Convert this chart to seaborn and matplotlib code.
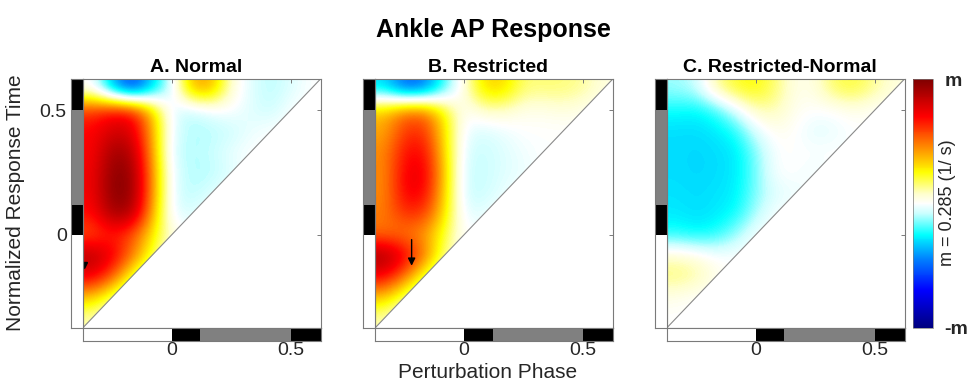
import numpy as np
import matplotlib
matplotlib.use("Agg")
import matplotlib.pyplot as plt
from matplotlib.colors import LinearSegmentedColormap
from matplotlib.patches import Polygon
import seaborn as sns

sns.set_theme(style="white")
plt.rcParams["font.family"] = ["Liberation Sans", "DejaVu Sans"]

# ---------------- data ----------------
phase_lo, phase_hi = -0.375, 0.625
tick_values = [0, 0.5]
tick_labels = ["0", "0.5"]

# gait phase bar (start, end, colour)
phase_starts = [-0.375, 0.0, 0.12, 0.5]
phase_ends = [0.0, 0.12, 0.5, 0.625]
phase_colors = ["white", "black", "#808080", "black"]

# response fields (normalised by m), 12x12 grid, rows top (0.583) -> bottom (-0.333),
# cols left (-0.333) -> right (0.583)
normal = np.array([
    [0.00, -0.38, -0.60, -0.32, -0.05, 0.40, 0.40, 0.05, -0.05, -0.10, -0.05, 0.00],
    [0.60, 0.70, 0.68, 0.35, -0.05, -0.10, -0.03, 0.00, -0.05, -0.08, 0.00, 0.00],
    [0.70, 0.80, 0.78, 0.40, -0.05, -0.10, -0.10, -0.08, -0.03, 0.00, 0.00, 0.00],
    [0.70, 0.92, 0.88, 0.42, -0.08, -0.10, -0.08, -0.03, 0.00, 0.00, 0.00, 0.00],
    [0.72, 0.97, 0.94, 0.45, -0.05, -0.10, -0.10, -0.05, 0.00, 0.00, 0.00, 0.00],
    [0.72, 0.98, 0.95, 0.45, -0.05, -0.10, -0.05, 0.00, 0.00, 0.00, 0.00, 0.00],
    [0.68, 0.92, 0.88, 0.40, -0.05, -0.05, 0.00, 0.00, 0.00, 0.00, 0.00, 0.00],
    [0.55, 0.65, 0.55, 0.28, 0.05, 0.00, 0.00, 0.00, 0.00, 0.00, 0.00, 0.00],
    [0.88, 0.75, 0.50, 0.20, 0.00, 0.00, 0.00, 0.00, 0.00, 0.00, 0.00, 0.00],
    [0.75, 0.55, 0.20, 0.00, 0.00, 0.00, 0.00, 0.00, 0.00, 0.00, 0.00, 0.00],
    [0.35, 0.15, 0.00, 0.00, 0.00, 0.00, 0.00, 0.00, 0.00, 0.00, 0.00, 0.00],
    [0.10, 0.00, 0.00, 0.00, 0.00, 0.00, 0.00, 0.00, 0.00, 0.00, 0.00, 0.00],
])

restricted = np.array([
    [-0.30, -0.52, -0.48, -0.20, 0.05, 0.32, 0.32, 0.15, 0.15, 0.15, 0.12, 0.05],
    [0.35, 0.50, 0.50, 0.25, 0.00, 0.08, 0.08, 0.03, 0.03, 0.05, 0.03, 0.00],
    [0.40, 0.60, 0.62, 0.30, -0.03, -0.06, -0.03, 0.00, 0.00, 0.00, 0.00, 0.00],
    [0.45, 0.68, 0.70, 0.32, -0.06, -0.08, -0.05, -0.02, 0.00, 0.00, 0.00, 0.00],
    [0.45, 0.72, 0.75, 0.35, -0.08, -0.08, -0.05, -0.03, 0.00, 0.00, 0.00, 0.00],
    [0.45, 0.72, 0.72, 0.33, -0.08, -0.08, -0.03, 0.00, 0.00, 0.00, 0.00, 0.00],
    [0.48, 0.62, 0.60, 0.30, -0.05, -0.03, 0.00, 0.00, 0.00, 0.00, 0.00, 0.00],
    [0.50, 0.48, 0.42, 0.20, 0.00, 0.00, 0.00, 0.00, 0.00, 0.00, 0.00, 0.00],
    [0.92, 0.75, 0.50, 0.15, 0.00, 0.00, 0.00, 0.00, 0.00, 0.00, 0.00, 0.00],
    [0.72, 0.50, 0.20, 0.00, 0.00, 0.00, 0.00, 0.00, 0.00, 0.00, 0.00, 0.00],
    [0.35, 0.15, 0.00, 0.00, 0.00, 0.00, 0.00, 0.00, 0.00, 0.00, 0.00, 0.00],
    [0.10, 0.00, 0.00, 0.00, 0.00, 0.00, 0.00, 0.00, 0.00, 0.00, 0.00, 0.00],
])

difference = np.array([
    [-0.12, -0.08, 0.12, 0.22, 0.25, 0.15, 0.03, 0.05, 0.18, 0.20, 0.12, 0.05],
    [-0.24, -0.26, -0.20, -0.05, 0.10, 0.10, 0.02, 0.00, 0.00, 0.03, 0.00, 0.00],
    [-0.30, -0.30, -0.28, -0.22, -0.05, 0.03, 0.00, -0.05, -0.03, 0.00, 0.00, 0.00],
    [-0.30, -0.31, -0.30, -0.28, -0.14, 0.00, 0.00, 0.00, 0.00, 0.00, 0.00, 0.00],
    [-0.30, -0.31, -0.30, -0.28, -0.15, 0.00, 0.00, -0.03, 0.00, 0.00, 0.00, 0.00],
    [-0.29, -0.30, -0.29, -0.27, -0.14, -0.05, -0.03, 0.00, 0.00, 0.00, 0.00, 0.00],
    [-0.28, -0.30, -0.28, -0.24, -0.10, 0.00, 0.00, 0.00, 0.00, 0.00, 0.00, 0.00],
    [-0.22, -0.25, -0.22, -0.12, 0.00, 0.00, 0.00, 0.00, 0.00, 0.00, 0.00, 0.00],
    [0.08, 0.05, 0.00, 0.00, 0.00, 0.00, 0.00, 0.00, 0.00, 0.00, 0.00, 0.00],
    [0.15, 0.12, 0.03, 0.00, 0.00, 0.00, 0.00, 0.00, 0.00, 0.00, 0.00, 0.00],
    [0.03, 0.00, 0.00, 0.00, 0.00, 0.00, 0.00, 0.00, 0.00, 0.00, 0.00, 0.00],
    [0.00, 0.00, 0.00, 0.00, 0.00, 0.00, 0.00, 0.00, 0.00, 0.00, 0.00, 0.00],
])

panel_titles = ["A. Normal", "B. Restricted", "C. Restricted-Normal"]
panel_data = [normal, restricted, difference]

# arrow annotations: (panel index, x, y_tail, y_tip)
arrow_b = (1, -0.221, -0.02, -0.125)
marker_a = (0, -0.368, -0.12)

# ---------------- style ----------------
cmap = LinearSegmentedColormap.from_list("jetwhite", [
    (0.00, (0.0, 0.0, 0.5)),
    (0.15, (0.0, 0.0, 1.0)),
    (0.275, (0.0, 0.5, 1.0)),
    (0.375, (0.0, 1.0, 1.0)),
    (0.46, (0.8, 1.0, 1.0)),
    (0.50, (1.0, 1.0, 1.0)),
    (0.54, (1.0, 1.0, 0.8)),
    (0.625, (1.0, 1.0, 0.0)),
    (0.725, (1.0, 0.55, 0.0)),
    (0.85, (1.0, 0.0, 0.0)),
    (1.00, (0.5, 0.0, 0.0)),
], N=256)

W, H = 967, 387
fig = plt.figure(figsize=(W / 100, H / 100), dpi=100)
text_color = "#262626"
spine_color = "#7a7a7a"


def px_axes(l, t, r, b):
    return fig.add_axes([l / W, 1 - b / H, (r - l) / W, (b - t) / H])


lefts = [82.7, 375.0, 666.7]
width = 237.8
top, bottom = 79.0, 328.0
bar_w = 11.7
bar_h = 13.0

starts = np.array(phase_starts)
durs = np.array(phase_ends) - starts

im = None
for i, (left, data, title) in enumerate(zip(lefts, panel_data, panel_titles)):
    ax = px_axes(left, top, left + width, bottom)
    im = ax.imshow(data, cmap=cmap, vmin=-1, vmax=1,
                   extent=[phase_lo, phase_hi, phase_lo, phase_hi],
                   origin="upper", interpolation="bicubic",
                   interpolation_stage="data", aspect="auto")
    tri = Polygon([[phase_lo, phase_lo], [phase_lo, phase_hi], [phase_hi, phase_hi]],
                  closed=True, transform=ax.transData)
    im.set_clip_path(tri)
    ax.plot([phase_lo, phase_hi], [phase_lo, phase_hi], color="#8a8a8a", lw=0.8)
    ax.set_xlim(phase_lo, phase_hi)
    ax.set_ylim(phase_lo, phase_hi)
    ax.set_xticks(tick_values)
    ax.set_yticks(tick_values)
    ax.tick_params(direction="in", length=3, width=0.7, color=spine_color,
                   bottom=False, left=False, top=True, right=True,
                   labelbottom=False, labelleft=False, labeltop=False, labelright=False)
    for s in ax.spines.values():
        s.set_color(spine_color)
        s.set_linewidth(0.8)

    if arrow_b[0] == i:
        ax.annotate("", xy=(arrow_b[1], arrow_b[3]), xytext=(arrow_b[1], arrow_b[2]),
                    arrowprops=dict(arrowstyle="-|>", color="black", lw=1.0,
                                    mutation_scale=11, shrinkA=0, shrinkB=0))
    if marker_a[0] == i:
        ax.plot(marker_a[1], marker_a[2], marker="v", ms=4, color="black")

    # left phase bar
    axl = px_axes(left - bar_w, top, left, bottom)
    axl.bar(x=np.zeros(len(starts)), height=durs, bottom=starts, width=1.0,
            color=phase_colors, edgecolor="none")
    axl.set_xlim(-0.5, 0.5)
    axl.set_ylim(phase_lo, phase_hi)
    axl.set_xticks([])
    axl.set_yticks(tick_values)
    if i == 0:
        axl.set_yticklabels(tick_labels, fontsize=14, color=text_color)
    else:
        axl.set_yticklabels([])
    axl.tick_params(axis="y", length=0, pad=3)
    for s in axl.spines.values():
        s.set_color(spine_color)
        s.set_linewidth(0.8)

    # bottom phase bar
    axb = px_axes(left, bottom, left + width, bottom + bar_h)
    axb.barh(y=np.zeros(len(starts)), width=durs, left=starts, height=1.0,
             color=phase_colors, edgecolor="none")
    axb.set_ylim(-0.5, 0.5)
    axb.set_xlim(phase_lo, phase_hi)
    axb.set_yticks([])
    axb.set_xticks(tick_values)
    axb.set_xticklabels(tick_labels, fontsize=14, color=text_color)
    axb.tick_params(axis="x", length=0, pad=1)
    for s in axb.spines.values():
        s.set_color(spine_color)
        s.set_linewidth(0.8)

    # subtitle
    cx = (left - bar_w + left + width) / 2
    fig.text(cx / W, 1 - 67 / H, title, fontsize=14, fontweight="bold",
             ha="center", va="center", color="black")

# colorbar
cax = px_axes(912.7, top, 933.3, bottom)
cb = fig.colorbar(im, cax=cax, ticks=[-1, 1])
cb.ax.set_yticklabels(["-m", "m"], fontsize=14, fontweight="bold", color=text_color)
cb.ax.tick_params(length=0, pad=8)
cb.outline.set_linewidth(0.5)
cb.outline.set_edgecolor(spine_color)
fig.text(948 / W, 1 - 203 / H, "m = 0.285 (1/ s)", rotation=90, fontsize=13,
         ha="center", va="center", color=text_color)

# titles and labels
fig.text(493 / W, 1 - 30 / H, "Ankle AP Response", fontsize=18, fontweight="bold",
         ha="center", va="center", color="black")
fig.text(488 / W, 1 - 372 / H, "Perturbation Phase", fontsize=15,
         ha="center", va="center", color=text_color)
fig.text(15.5 / W, 1 - 203 / H, "Normalized Response Time", fontsize=15, rotation=90,
         ha="center", va="center", color=text_color)

fig.savefig("out.png", dpi=100)
